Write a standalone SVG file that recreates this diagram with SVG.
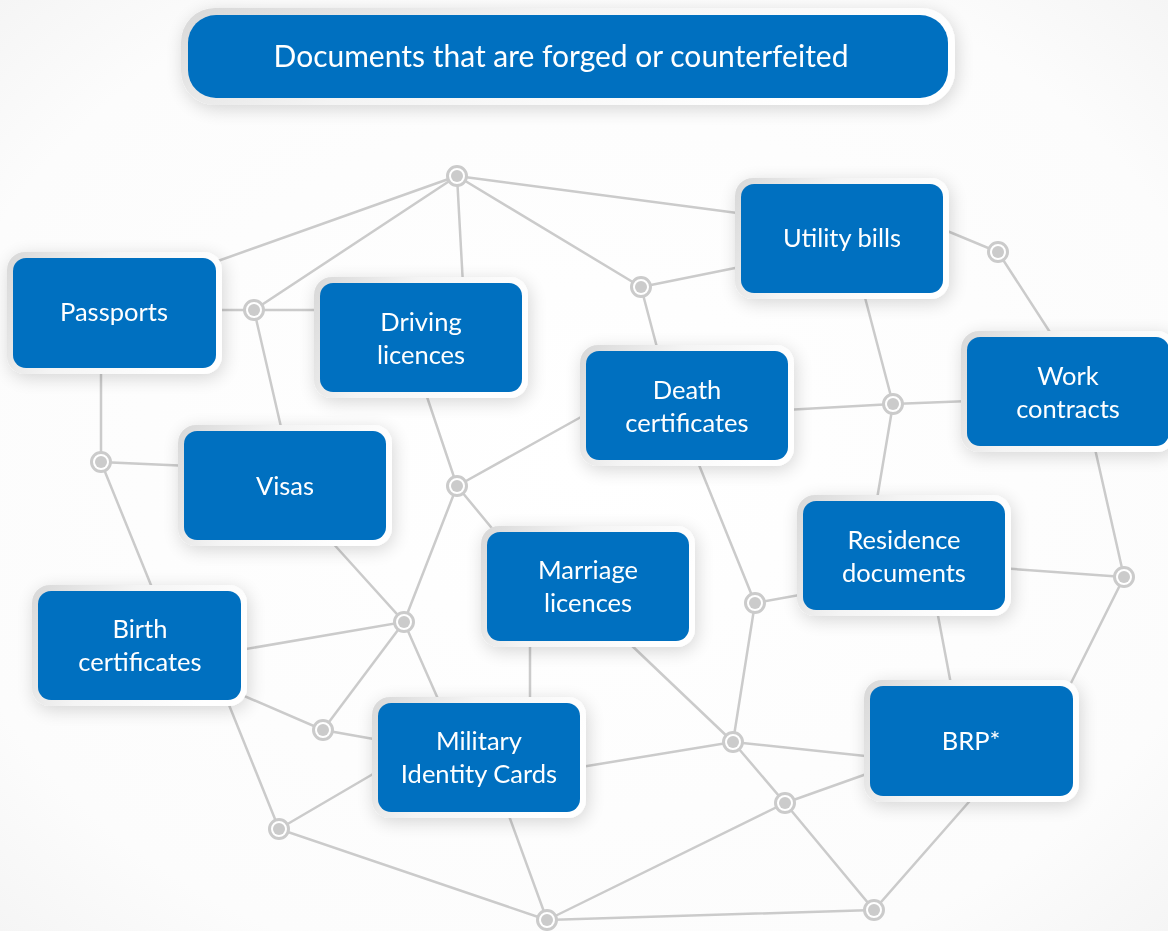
<svg xmlns="http://www.w3.org/2000/svg" width="1168" height="931" viewBox="0 0 1168 931">
<defs>
<radialGradient id="bg" cx="0.5" cy="0.5" r="0.75">
<stop offset="0" stop-color="#ffffff"/>
<stop offset="0.75" stop-color="#fcfcfc"/>
<stop offset="1" stop-color="#f3f3f3"/>
</radialGradient>
<linearGradient id="frame" x1="0" y1="0" x2="1" y2="0.3">
<stop offset="0" stop-color="#d8d8d8"/>
<stop offset="0.45" stop-color="#f4f4f4"/>
<stop offset="1" stop-color="#ffffff"/>
</linearGradient>
<filter id="sh" x="-20%" y="-30%" width="140%" height="160%">
<feGaussianBlur in="SourceAlpha" stdDeviation="9"/>
<feOffset dx="2" dy="4"/>
<feComponentTransfer><feFuncA type="linear" slope="0.16"/></feComponentTransfer>
<feMerge><feMergeNode/><feMergeNode in="SourceGraphic"/></feMerge>
</filter>
<g id="hub"><circle r="9.5" fill="#ffffff" stroke="#cbcbcb" stroke-width="3"/><circle r="6" fill="#cbcbcb"/></g>
</defs>
<style>
.fr{fill:url(#frame)}
.bx{fill:#0070c0}
.t{font-family:Lato,"Open Sans","Liberation Sans",sans-serif;font-size:25.5px;fill:#ffffff;text-anchor:middle}
.tt{font-size:30px}
.ln{fill:none;stroke:#cbcbcb;stroke-width:2.5;stroke-linecap:round}
</style>
<rect width="1168" height="931" fill="url(#bg)"/>
<g id="connectors" class="ln">
<path d="M457,176 L215,262 M457,176 L254,310 M457,176 L463,285 M457,176 L641,287 M457,176 L745,214"/>
<path d="M215,310 L325,310 M254,310 L284,440"/>
<path d="M641,287 L745,266 M641,287 L659,355"/>
<path d="M940,228 L998,252 L1055,340"/>
<path d="M863,290 L893,404 M785,410 L893,404 L970,401 M893,404 L876,505"/>
<path d="M101,365 L101,462 L190,466 M101,462 L155,595"/>
<path d="M423,385 L457,486 L590,412 M457,486 L500,538 M457,486 L404,622"/>
<path d="M330,540 L404,622 L240,650 M404,622 L323,730 M404,622 L442,708"/>
<path d="M530,635 L530,710"/>
<path d="M628,642 L733,742"/>
<path d="M695,455 L755,603 L805,594 M755,603 L733,742"/>
<path d="M1000,568 L1124,577 M1093,440 L1124,577 L1065,695"/>
<path d="M936,605 L953,695"/>
<path d="M575,768 L733,742 L875,757 M733,742 L785,803 L875,771 M785,803 L547,920 M785,803 L874,910 L975,795 M874,910 L547,920 L505,805 M547,920 L279,829 L225,695 M279,829 L385,767"/>
<path d="M235,692 L323,730 L385,741"/>
</g>
<g id="hubs">
<use href="#hub" x="457" y="176"/>
<use href="#hub" x="254" y="310"/>
<use href="#hub" x="641" y="287"/>
<use href="#hub" x="998" y="252"/>
<use href="#hub" x="893" y="404"/>
<use href="#hub" x="101" y="462"/>
<use href="#hub" x="457" y="486"/>
<use href="#hub" x="404" y="622"/>
<use href="#hub" x="755" y="603"/>
<use href="#hub" x="1124" y="577"/>
<use href="#hub" x="323" y="730"/>
<use href="#hub" x="733" y="742"/>
<use href="#hub" x="785" y="803"/>
<use href="#hub" x="279" y="829"/>
<use href="#hub" x="547" y="920"/>
<use href="#hub" x="874" y="910"/>
</g>
<g id="title" filter="url(#sh)">
<rect class="fr" x="181" y="8" width="774" height="97" rx="34"/>
<rect class="bx" x="188" y="15" width="760" height="83" rx="28"/>
<text class="t tt" x="561" y="67">Documents that are forged or counterfeited</text>
</g>
<g id="passports" filter="url(#sh)">
<rect class="fr" x="7" y="252" width="215" height="122" rx="18"/>
<rect class="bx" x="13" y="258" width="203" height="110" rx="13"/>
<text class="t" x="114" y="321">Passports</text>
</g>
<g id="driving" filter="url(#sh)">
<rect class="fr" x="314" y="277" width="214" height="121" rx="18"/>
<rect class="bx" x="320" y="283" width="202" height="109" rx="13"/>
<text class="t" x="421" y="331">Driving</text>
<text class="t" x="421" y="364">licences</text>
</g>
<g id="utility" filter="url(#sh)">
<rect class="fr" x="735" y="178" width="214" height="121" rx="18"/>
<rect class="bx" x="741" y="184" width="202" height="109" rx="13"/>
<text class="t" x="842" y="247">Utility bills</text>
</g>
<g id="death" filter="url(#sh)">
<rect class="fr" x="580" y="345" width="214" height="121" rx="18"/>
<rect class="bx" x="586" y="351" width="202" height="109" rx="13"/>
<text class="t" x="687" y="399">Death</text>
<text class="t" x="687" y="432">certificates</text>
</g>
<g id="work" filter="url(#sh)">
<rect class="fr" x="961" y="331" width="214" height="121" rx="18"/>
<rect class="bx" x="967" y="337" width="202" height="109" rx="13"/>
<text class="t" x="1068" y="385">Work</text>
<text class="t" x="1068" y="418">contracts</text>
</g>
<g id="visas" filter="url(#sh)">
<rect class="fr" x="178" y="425" width="214" height="121" rx="18"/>
<rect class="bx" x="184" y="431" width="202" height="109" rx="13"/>
<text class="t" x="285" y="495">Visas</text>
</g>
<g id="residence" filter="url(#sh)">
<rect class="fr" x="797" y="495" width="214" height="121" rx="18"/>
<rect class="bx" x="803" y="501" width="202" height="109" rx="13"/>
<text class="t" x="904" y="549">Residence</text>
<text class="t" x="904" y="582">documents</text>
</g>
<g id="marriage" filter="url(#sh)">
<rect class="fr" x="481" y="526" width="214" height="121" rx="18"/>
<rect class="bx" x="487" y="532" width="202" height="109" rx="13"/>
<text class="t" x="588" y="579">Marriage</text>
<text class="t" x="588" y="612">licences</text>
</g>
<g id="birth" filter="url(#sh)">
<rect class="fr" x="32" y="585" width="215" height="121" rx="18"/>
<rect class="bx" x="38" y="591" width="203" height="109" rx="13"/>
<text class="t" x="140" y="638">Birth</text>
<text class="t" x="140" y="671">certificates</text>
</g>
<g id="military" filter="url(#sh)">
<rect class="fr" x="372" y="697" width="214" height="121" rx="18"/>
<rect class="bx" x="378" y="703" width="202" height="109" rx="13"/>
<text class="t" x="479" y="750">Military</text>
<text class="t" x="479" y="783">Identity Cards</text>
</g>
<g id="brp" filter="url(#sh)">
<rect class="fr" x="864" y="680" width="215" height="122" rx="18"/>
<rect class="bx" x="870" y="686" width="203" height="110" rx="13"/>
<text class="t" x="971" y="750">BRP*</text>
</g>
</svg>
